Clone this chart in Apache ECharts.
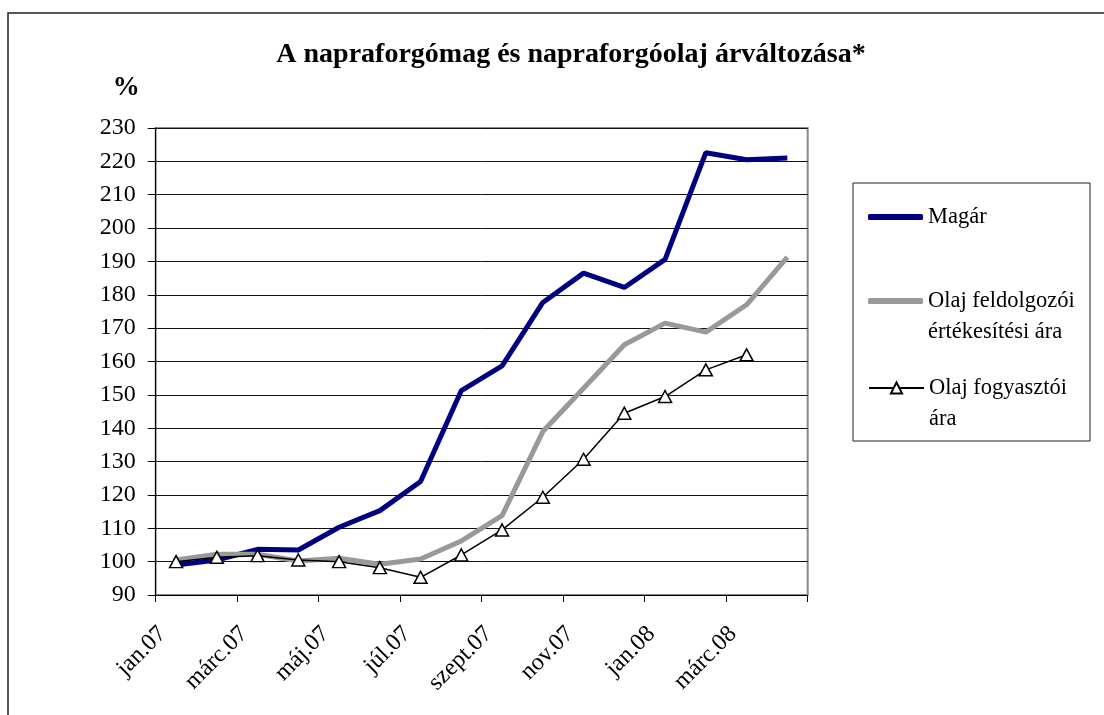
<!DOCTYPE html>
<html>
<head>
<meta charset="utf-8">
<title>A napraforgómag és napraforgóolaj árváltozása</title>
<script src="https://cdn.jsdelivr.net/npm/echarts@6/dist/echarts.min.js"></script>
<style>
    html,body{margin:0;padding:0;background:#fff;}
    #chart{width:1104px;height:715px;}
</style>
</head>
<body>
<div id="chart"></div>
<script>
// categories (months)
var months = ['jan.07','febr.07','márc.07','ápr.07','máj.07','jún.07','júl.07','aug.07',
    'szept.07','okt.07','nov.07','dec.07','jan.08','febr.08','márc.08','ápr.08'];
// series values, %
var magar = [99, 100.5, 103.7, 103.5, 110.3, 115.3, 124, 151.3, 158.7, 177.7, 186.5, 182.2, 190.6, 222.6, 220.5, 221];
var olajFeldolgozoi = [100.5, 102.2, 102.2, 100.2, 101, 99.2, 100.8, 106.2, 113.8, 139, 152, 165, 171.5, 168.8, 177, 191.3];
var olajFogyasztoi = [100, 101.3, 101.8, 100.5, 100, 98.2, 95.3, 102, 109.5, 119.3, 130.7, 144.5, 149.5, 157.5, 162, null];
var seriesNames = ['Magár', 'Olaj feldolgozói értékesítési ára', 'Olaj fogyasztói ára'];
var legendLabels = ['Magár', 'Olaj feldolgozói\nértékesítési ára', 'Olaj fogyasztói\nára'];
// value axis
var yMin = 90, yMax = 230, yStep = 10;

var font = '"Liberation Serif", "Times New Roman", serif';

var chart = echarts.init(document.getElementById('chart'), null, {renderer:'canvas'});

//one legend block per entry so the icon sits on the first text line
function legendBlock(i, top){
    var block = {
        data:[seriesNames[i]],
        orient:'vertical',
        left:868,
        top:top,
        padding:0,
        itemWidth:55,
        itemHeight:14,
        selectedMode:false,
        formatter:function(){
            return i === 0 ? legendLabels[i] : '\n' + legendLabels[i];
        },
        textStyle:{fontFamily:font, fontSize:22.5, color:'#000', lineHeight:31}
    };
    if(i < 2){
        //thick bar icon, no symbol
        block.icon = 'roundRect';
        block.itemHeight = 6;
        block.itemStyle = {borderWidth:0};
    }else{
        block.lineStyle = {width:2};
    }
    return block;
}

chart.setOption({
    backgroundColor:'#fff',
    animation:false,
    title:{
        text:'A napraforgómag és napraforgóolaj árváltozása*',
        left:566,
        top:36,
        textAlign:'center',
        textStyle:{fontFamily:font, fontSize:28, fontWeight:'bold', color:'#000'}
    },
    legend:[
        legendBlock(0, 201.5),
        legendBlock(1, 254.5),
        legendBlock(2, 341.5)
    ],
    graphic:[
        //outer frame
        {type:'rect', shape:{x:8, y:13, width:1110, height:720}, style:{fill:'none', stroke:'#222', lineWidth:1.5}, silent:true},
        //legend box
        {type:'rect', shape:{x:853, y:183, width:237, height:258}, style:{fill:'none', stroke:'#222', lineWidth:1}, silent:true}
    ],
    grid:{
        left:155.7,
        right:296.3,
        top:128,
        bottom:120,
        show:true,
        borderColor:'#8a8a8a',
        borderWidth:2,
        backgroundColor:'transparent',
        outerBoundsMode:'none'
    },
    xAxis:{
        type:'category',
        data:months,
        boundaryGap:true,
        axisLine:{lineStyle:{color:'#000', width:1}},
        axisTick:{show:true, interval:1, length:7, lineStyle:{color:'#000'}},
        axisLabel:{
            interval:1,
            rotate:45,
            margin:22,
            padding:[0,19,0,0],
            color:'#000',
            fontFamily:font,
            fontSize:24
        },
        splitLine:{show:false}
    },
    yAxis:{
        type:'value',
        min:yMin,
        max:yMax,
        interval:yStep,
        name:'%',
        nameLocation:'end',
        nameGap:26,
        nameTextStyle:{fontFamily:font, fontSize:27, fontWeight:'bold', color:'#000', align:'center', padding:[0,59,0,0]},
        axisLine:{show:true, lineStyle:{color:'#000', width:1}},
        axisTick:{show:true, length:8, lineStyle:{color:'#000'}},
        axisLabel:{color:'#000', fontFamily:font, fontSize:24, margin:20},
        splitLine:{show:true, lineStyle:{color:'#111', width:1}}
    },
    series:[
        {
            name:seriesNames[0],
            type:'line',
            data:magar,
            symbol:'none',
            lineStyle:{color:'#000080', width:5},
            itemStyle:{color:'#000080'}
        },
        {
            name:seriesNames[1],
            type:'line',
            data:olajFeldolgozoi,
            symbol:'none',
            lineStyle:{color:'#999999', width:5},
            itemStyle:{color:'#999999'}
        },
        {
            name:seriesNames[2],
            type:'line',
            data:olajFogyasztoi,
            symbol:'triangle',
            symbolSize:[13, 12],
            showAllSymbol:true,
            lineStyle:{color:'#000', width:1.5},
            itemStyle:{color:'#fff', borderColor:'#000', borderWidth:1.5}
        }
    ]
});
</script>
</body>
</html>
